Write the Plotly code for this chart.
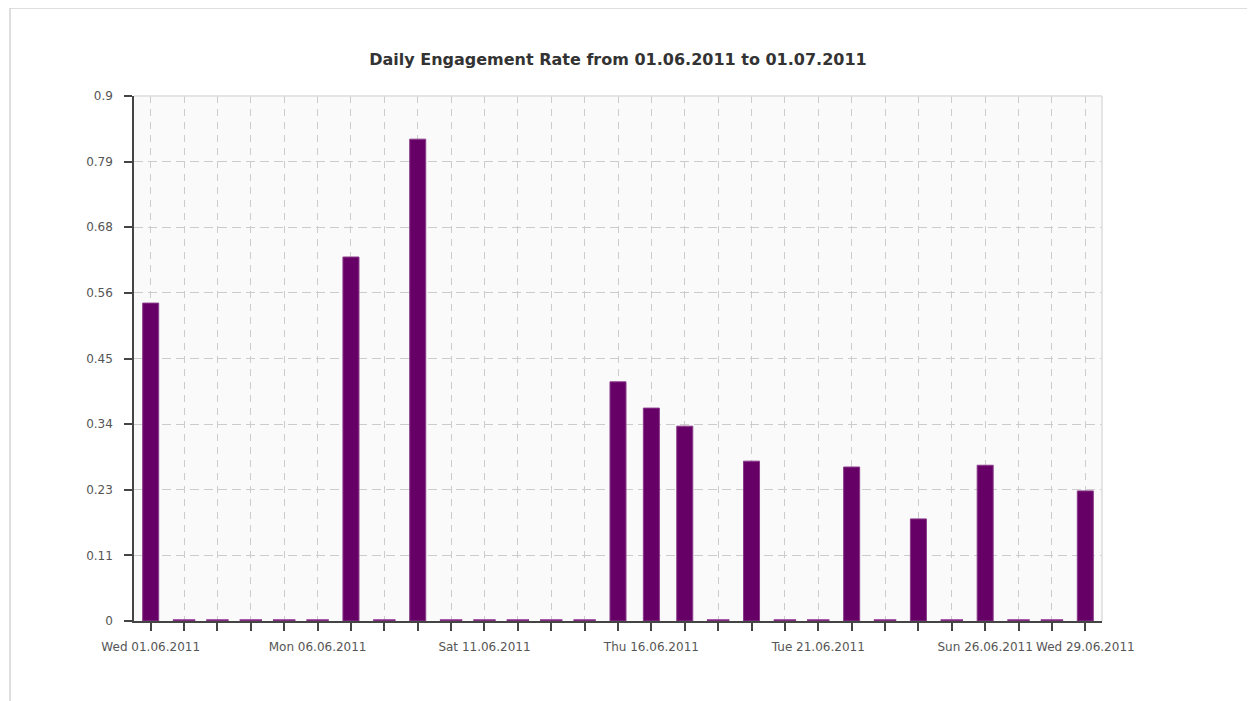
import plotly.graph_objects as go

days = ["Wed 01.06.2011", "Thu 02.06.2011", "Fri 03.06.2011", "Sat 04.06.2011", "Sun 05.06.2011",
        "Mon 06.06.2011", "Tue 07.06.2011", "Wed 08.06.2011", "Thu 09.06.2011", "Fri 10.06.2011",
        "Sat 11.06.2011", "Sun 12.06.2011", "Mon 13.06.2011", "Tue 14.06.2011", "Wed 15.06.2011",
        "Thu 16.06.2011", "Fri 17.06.2011", "Sat 18.06.2011", "Sun 19.06.2011", "Mon 20.06.2011",
        "Tue 21.06.2011", "Wed 22.06.2011", "Thu 23.06.2011", "Fri 24.06.2011", "Sat 25.06.2011",
        "Sun 26.06.2011", "Mon 27.06.2011", "Tue 28.06.2011", "Wed 29.06.2011"]

engagement = [0.545, 0, 0, 0, 0, 0, 0.624, 0, 0.826, 0, 0, 0, 0, 0, 0.41,
              0.365, 0.334, 0, 0.274, 0, 0, 0.264, 0, 0.175, 0, 0.267, 0, 0, 0.223]

shown_labels = ["Wed 01.06.2011", "Mon 06.06.2011", "Sat 11.06.2011", "Thu 16.06.2011",
                "Tue 21.06.2011", "Sun 26.06.2011", "Wed 29.06.2011"]

y_tickvals = [0, 0.1125, 0.225, 0.3375, 0.45, 0.5625, 0.675, 0.7875, 0.9]
y_ticktext = ["0", "0.11", "0.23", "0.34", "0.45", "0.56", "0.68", "0.79", "0.9"]

title = "Daily Engagement Rate from 01.06.2011 to 01.07.2011"

BAR = "#660066"
fig = go.Figure()
fig.add_trace(go.Bar(
    x=days, y=engagement, width=0.48,
    marker=dict(color=BAR, line=dict(color="#8a3a8a", width=1)),
    hoverinfo="x+y",
))
zero_x = [d for d, v in zip(days, engagement) if v == 0]
fig.add_trace(go.Scatter(
    x=zero_x, y=[0] * len(zero_x), mode="markers",
    marker=dict(symbol="line-ew", size=16, line=dict(color="#862a86", width=3.5)),
    hoverinfo="skip", cliponaxis=False,
))

ticktext = [d if d in shown_labels else "" for d in days]
fig.update_layout(
    width=1255, height=701,
    margin=dict(l=126, r=161, t=88, b=88),
    paper_bgcolor="white", plot_bgcolor="#fafafa",
    showlegend=False,
    font=dict(family="DejaVu Sans", size=12, color="#555555"),
    title=dict(text="<b>" + title + "</b>", x=0.486, xanchor="center", y=0.927, yanchor="middle",
               font=dict(family="DejaVu Sans", size=16, color="#333333")),
    xaxis=dict(
        type="category", range=[-0.5, len(days) - 0.5],
        tickvals=days, ticktext=ticktext, tickangle=0,
        showgrid=True, gridcolor="#cccccc", griddash="7px,6px", gridwidth=1,
        showline=True, linecolor="#444444", linewidth=1.5,
        ticks="outside", ticklen=8, tickcolor="#444444", tickwidth=1.5,
        ticklabelstandoff=6,
        tickfont=dict(size=12, color="#555555"), zeroline=False,
    ),
    yaxis=dict(
        range=[0, 0.9], tickvals=y_tickvals, ticktext=y_ticktext,
        showgrid=True, gridcolor="#cccccc", griddash="9px,5px", gridwidth=1,
        showline=True, linecolor="#444444", linewidth=1.5,
        ticks="outside", ticklen=8, tickcolor="#444444", tickwidth=1.5,
        ticklabelstandoff=9,
        tickfont=dict(size=12, color="#555555"), zeroline=False,
    ),
    shapes=[
        dict(type="line", xref="paper", yref="paper", x0=0, x1=1, y0=1, y1=1,
             line=dict(color="#dddddd", width=1.5)),
        dict(type="line", xref="paper", yref="paper", x0=1, x1=1, y0=0, y1=1,
             line=dict(color="#dddddd", width=1.5)),
        dict(type="rect", xref="paper", yref="paper", x0=-0.1281, x1=1.1508, y0=-0.2, y1=1.1676,
             line=dict(color="#d4d4d4", width=1.5), layer="below"),
    ],
)

fig.write_html("out.html")
